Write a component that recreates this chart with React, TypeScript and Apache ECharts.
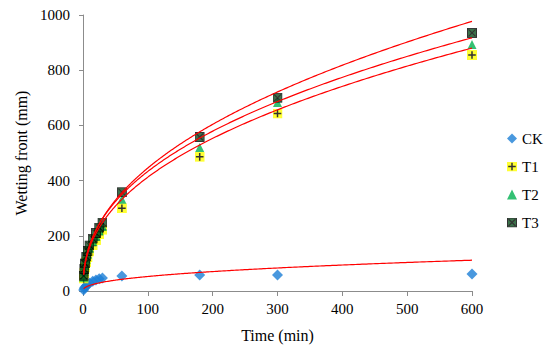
import React, { useEffect, useRef } from "react";
import * as echarts from "echarts";

// Elapsed time of each measurement (min)
const times = [1, 2, 3, 5, 7, 10, 15, 20, 25, 30, 60, 180, 300, 600];
// Wetting front depth (mm) per treatment
const ckValues = [4, 10, 14, 19, 23, 28, 35, 40, 44, 47, 54, 58, 58, 62];
const t1Values = [45, 65, 85, 105, 122, 143, 165, 185, 205, 222, 300, 486, 643, 855];
const t2Values = [50, 72, 92, 115, 133, 155, 180, 198, 218, 235, 332, 520, 683, 893];
const t3Values = [55, 80, 100, 125, 145, 165, 190, 210, 230, 248, 358, 558, 700, 935];

// Power trendlines y = a * t^b as printed on the chart
const trendA = [7.6, 58.8, 63.0, 59.3];
const trendB = [0.42, 0.423, 0.4187, 0.438];

const seriesNames = ["CK", "T1", "T2", "T3"];
const xTicks = [0, 100, 200, 300, 400, 500, 600];
const yTicks = [0, 200, 400, 600, 800, 1000];

const FONT = "Liberation Serif";

const svgUri = (svg: string) => "image://data:image/svg+xml;charset=utf-8," + encodeURIComponent(svg);

const T1_ICON = svgUri(
  "<svg xmlns='http://www.w3.org/2000/svg' width='20' height='20' viewBox='0 0 10 10'>" +
    "<rect x='0' y='0' width='10' height='10' fill='#FFFF00'/>" +
    "<path d='M5 1.2V8.8M1.2 5H8.8' stroke='#000000' stroke-width='1.5'/></svg>"
);
const T3_ICON = svgUri(
  "<svg xmlns='http://www.w3.org/2000/svg' width='20' height='20' viewBox='0 0 10 10'>" +
    "<rect x='0.5' y='0.5' width='9' height='9' fill='#0B4F1D' stroke='#000000' stroke-width='1'/>" +
    "<path d='M1.5 1.5L8.5 8.5M8.5 1.5L1.5 8.5' stroke='#000000' stroke-width='1.1'/></svg>"
);

function trendLine(a: number, b: number) {
  const x0 = times[0];
  const x1 = times[times.length - 1];
  const pts: number[][] = [];
  const steps = 300;
  for (let i = 0; i <= steps; i++) {
    const f = i / steps;
    const x = x0 + (x1 - x0) * f * f; // denser near the start
    pts.push([x, a * Math.pow(x, b)]);
  }
  return pts;
}

const pairs = (ys: number[]) => times.map((t, i) => [t, ys[i]]);

export default function App() {
  const ref = useRef<HTMLDivElement>(null);

  useEffect(() => {
    if (!ref.current) return;
    const chart = echarts.init(ref.current, undefined, { renderer: "svg" });

    const lineSeries = seriesNames.map((nm, i) => ({
      name: nm + " trend",
      type: "line" as const,
      data: trendLine(trendA[i], trendB[i]),
      showSymbol: false,
      symbol: "none",
      lineStyle: { color: "#FF0000", width: 1.2 },
      z: 5,
      silent: true,
    }));

    chart.setOption({
      animation: false,
      backgroundColor: "#FFFFFF",
      textStyle: { fontFamily: FONT },
      grid: { left: 83, right: 78, top: 15, bottom: 63, containLabel: false },
      legend: {
        data: [
          { name: "CK", icon: "diamond" },
          { name: "T1", icon: T1_ICON },
          { name: "T2", icon: "triangle" },
          { name: "T3", icon: T3_ICON },
        ],
        orient: "vertical",
        left: 502,
        top: 126,
        itemWidth: 10,
        itemHeight: 10,
        itemGap: 13,
        textStyle: { fontFamily: FONT, fontSize: 15, color: "#000000" },
        selectedMode: false,
      },
      xAxis: {
        type: "value",
        min: xTicks[0],
        max: xTicks[xTicks.length - 1],
        interval: 100,
        name: "Time (min)",
        nameLocation: "middle",
        nameGap: 36,
        nameTextStyle: { fontFamily: FONT, fontSize: 16, color: "#000000" },
        axisLine: { show: true, lineStyle: { color: "#8C8C8C", width: 1 } },
        axisTick: { show: true, length: 5, lineStyle: { color: "#8C8C8C" } },
        axisLabel: { fontFamily: FONT, fontSize: 15, color: "#000000", margin: 10 },
        splitLine: { show: false },
      },
      yAxis: {
        type: "value",
        min: yTicks[0],
        max: yTicks[yTicks.length - 1],
        interval: 200,
        name: "Wetting front (mm)",
        nameLocation: "middle",
        nameGap: 52,
        nameTextStyle: { fontFamily: FONT, fontSize: 16, color: "#000000" },
        axisLine: { show: true, lineStyle: { color: "#8C8C8C", width: 1 } },
        axisTick: { show: true, length: 4, lineStyle: { color: "#8C8C8C" } },
        axisLabel: {
          fontFamily: FONT,
          fontSize: 15,
          color: "#000000",
          margin: 13,
          formatter: (v: number) => String(v),
        },
        splitLine: { show: false },
      },
      series: [
        {
          name: "CK",
          type: "scatter",
          data: pairs(ckValues),
          symbol: "diamond",
          symbolSize: 11,
          itemStyle: { color: "#1C7ED6" },
          z: 2,
        },
        {
          name: "T1",
          type: "scatter",
          data: pairs(t1Values),
          symbol: T1_ICON,
          symbolSize: 10,
          z: 2,
        },
        {
          name: "T2",
          type: "scatter",
          data: pairs(t2Values),
          symbol: "triangle",
          symbolSize: 9,
          itemStyle: { color: "#00B050" },
          z: 2,
        },
        {
          name: "T3",
          type: "scatter",
          data: pairs(t3Values),
          symbol: T3_ICON,
          symbolSize: 10,
          z: 2,
        },
        ...lineSeries,
      ],
    });

    return () => chart.dispose();
  }, []);

  return (
    <div
      ref={ref}
      style={{ position: "fixed", left: 0, top: 0, width: 550, height: 354, background: "#FFFFFF" }}
    />
  );
}
